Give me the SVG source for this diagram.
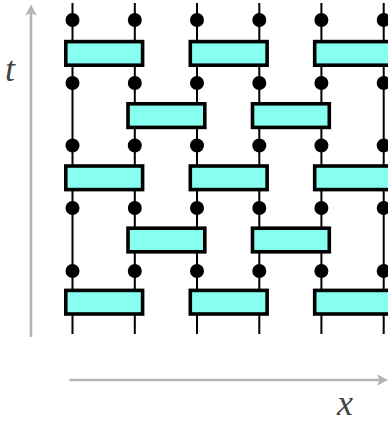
<svg xmlns="http://www.w3.org/2000/svg" width="388" height="422" viewBox="0 0 388 422">
<style>
.w{stroke:#000;stroke-width:2;fill:none}
.a{stroke:#b2b6b4;stroke-width:2.6;fill:none}
.h{fill:#b2b6b4}
.b{fill:#86fff0;stroke:#000;stroke-width:3.6}
.d{fill:#000}
.l{font-family:"Liberation Serif",serif;font-style:italic;font-size:36px;fill:#444}
</style>
<defs>
<g id="dots"><circle class="d" cx="72.5" r="7"/><circle class="d" cx="134.8" r="7"/><circle class="d" cx="197" r="7"/><circle class="d" cx="259.3" r="7"/><circle class="d" cx="321.4" r="7"/><circle class="d" cx="383.7" r="7"/></g>
<g id="odd"><rect class="b" x="65.800" y="0" width="76.800" height="23.600"/><rect class="b" x="190.300" y="0" width="76.800" height="23.600"/><rect class="b" x="314.700" y="0" width="76.800" height="23.600"/></g>
<g id="even"><rect class="b" x="128" y="0" width="76.800" height="23.600"/><rect class="b" x="252.500" y="0" width="76.800" height="23.600"/></g>
</defs>
<g id="connectors">
<path class="w" d="M72.500 3V334M134.800 3V334M197 3V334M259.300 3V334M321.400 3V334M383.700 3V334"/>
</g>
<g id="axes">
<path class="a" d="M31 337V12"/><path class="h" d="M31 4.500L36.800 15.500L31 13L25.200 15.500Z"/>
<path class="a" d="M69.500 380H380"/><path class="h" d="M388 380L377 374.200L379.500 380L377 385.800Z"/>
</g>
<g id="dots-row-1"><use href="#dots" y="20"/></g>
<g id="dots-row-2"><use href="#dots" y="83"/></g>
<g id="dots-row-3"><use href="#dots" y="145.500"/></g>
<g id="dots-row-4"><use href="#dots" y="208"/></g>
<g id="dots-row-5"><use href="#dots" y="271"/></g>
<g id="boxes-row-1"><use href="#odd" y="41.600"/></g>
<g id="boxes-row-2"><use href="#even" y="103.800"/></g>
<g id="boxes-row-3"><use href="#odd" y="166"/></g>
<g id="boxes-row-4"><use href="#even" y="228.200"/></g>
<g id="boxes-row-5"><use href="#odd" y="290.400"/></g>
<text class="l" x="5" y="80.500">t</text>
<text class="l" x="337" y="414.500">x</text>
</svg>
